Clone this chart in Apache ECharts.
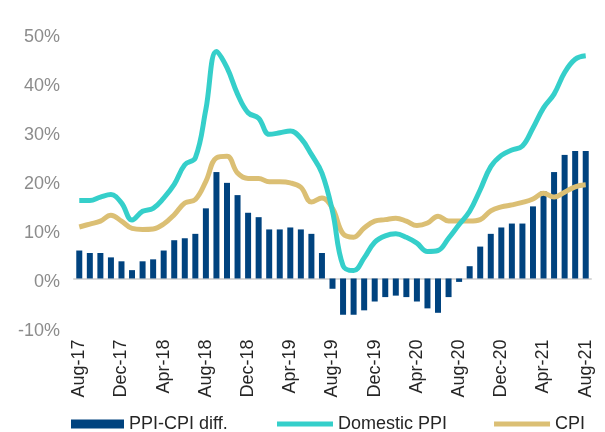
<!DOCTYPE html>
<html>
<head>
<meta charset="utf-8">
<script src="https://cdn.jsdelivr.net/npm/echarts@6/dist/echarts.min.js"></script>
<style>
  html, body { margin: 0; padding: 0; background: #fff; }
  #chart { width: 605px; height: 432px; }
</style>
</head>
<body>
<div id="chart"></div>
<script>
// months, Aug-17 .. Aug-21
const months = [
  'Aug-17', 'Sep-17', 'Oct-17', 'Nov-17', 'Dec-17', 'Jan-18', 'Feb-18', 'Mar-18', 'Apr-18',
  'May-18', 'Jun-18', 'Jul-18', 'Aug-18', 'Sep-18', 'Oct-18', 'Nov-18', 'Dec-18', 'Jan-19',
  'Feb-19', 'Mar-19', 'Apr-19', 'May-19', 'Jun-19', 'Jul-19', 'Aug-19', 'Sep-19', 'Oct-19',
  'Nov-19', 'Dec-19', 'Jan-20', 'Feb-20', 'Mar-20', 'Apr-20', 'May-20', 'Jun-20', 'Jul-20',
  'Aug-20', 'Sep-20', 'Oct-20', 'Nov-20', 'Dec-20', 'Jan-21', 'Feb-21', 'Mar-21', 'Apr-21',
  'May-21', 'Jun-21', 'Jul-21', 'Aug-21'
]

// PPI-CPI difference (%)
const diff = [
  5.7, 5.2, 5.2, 4.3, 3.5, 1.7, 3.5, 3.9, 5.7, 7.8, 8.2, 9.1,
  14.3, 21.7, 19.5, 17.0, 13.4, 12.5, 10.0, 10.0, 10.4, 10.0, 9.1, 5.2,
  -2.1, -7.4, -7.4, -6.5, -4.7, -3.8, -3.5, -3.8, -4.7, -6.1, -7.0, -3.8,
  -0.7, 2.5, 6.5, 9.1, 10.4, 11.2, 11.2, 14.7, 17.8, 21.7, 25.2, 26.0, 26.0
]

// Domestic PPI (%)
const ppi = [
  15.9, 15.9, 16.6, 17.1, 15.4, 11.9, 13.7, 14.3, 16.4, 19.2, 23.2, 24.6,
  34.5, 46.3, 43.0, 37.6, 33.8, 32.7, 29.4, 29.7, 30.1, 28.6, 25.3, 21.5,
  13.7, 2.6, 1.6, 4.2, 7.4, 8.7, 9.1, 8.4, 7.2, 5.5, 5.7, 8.2,
  11.0, 13.7, 18.1, 22.8, 25.1, 26.2, 27.0, 30.7, 34.8, 37.6, 42.0, 44.7, 45.4
]

// CPI (%)
const cpi = [
  10.5, 11.1, 11.7, 12.9, 11.7, 10.2, 10.0, 10.1, 11.1, 13.0, 15.4, 16.1,
  19.8, 24.6, 24.9, 21.5, 20.4, 20.4, 19.7, 19.7, 19.5, 18.6, 15.6, 16.4,
  14.3, 9.1, 8.4, 10.3, 11.7, 12.0, 12.3, 11.7, 10.8, 11.3, 12.7, 11.7,
  11.7, 11.7, 12.0, 13.8, 14.6, 15.0, 15.5, 16.2, 17.4, 16.6, 17.6, 18.7, 19.1
]

const font = 'Liberation Sans, Arial, sans-serif'
const legendText = { fontFamily: font, fontSize: 18, color: '#262626' }
const chart = echarts.init(document.getElementById('chart'))

chart.setOption({
  animation: false,
  grid: { left: 74, right: 14, top: 33.3, bottom: 104.5 },
  // two legends: thick swatch for the bars, thin strokes for the lines
  legend: [
    {
      data: ['PPI-CPI diff.'],
      icon: 'rect',
      left: 71,
      top: 415,
      padding: 0,
      itemWidth: 53,
      itemHeight: 9,
      itemGap: 4,
      textStyle: legendText
    },
    {
      data: ['Domestic PPI', 'CPI'],
      icon: 'rect',
      left: 277,
      top: 415,
      padding: 0,
      itemWidth: 56,
      itemHeight: 5,
      itemGap: 47,
      textStyle: legendText
    }
  ],
  xAxis: [
    // bottom axis: labels only
    {
      type: 'category',
      data: months,
      position: 'bottom',
      axisLine: { show: false, onZero: false },
      axisTick: { show: false },
      axisLabel: {
        interval: 3,
        rotate: 90,
        margin: 12,
        fontFamily: font,
        fontSize: 18,
        color: '#262626'
      }
    },
    // zero line with ticks
    {
      type: 'category',
      data: months,
      position: 'bottom',
      axisLine: { onZero: true, lineStyle: { color: '#d9d9d9', width: 2 } },
      axisTick: { interval: 3, length: 5, lineStyle: { color: '#d9d9d9', width: 1.5 } },
      axisLabel: { show: false }
    }
  ],
  yAxis: {
    type: 'value',
    min: -10,
    max: 50,
    interval: 10,
    axisLine: { show: false },
    axisTick: { show: false },
    splitLine: { show: false },
    axisLabel: {
      formatter: '{value}%',
      margin: 14,
      verticalAlign: 'top',
      lineHeight: 8,
      fontFamily: font,
      fontSize: 18,
      color: '#8c8c8c'
    }
  },
  series: [
    {
      name: 'PPI-CPI diff.',
      type: 'bar',
      xAxisIndex: 1,
      data: diff,
      barWidth: 6,
      itemStyle: { color: '#00437f' },
      z: 1
    },
    {
      name: 'Domestic PPI',
      type: 'line',
      xAxisIndex: 1,
      data: ppi,
      smooth: 0.4,
      symbol: 'none',
      lineStyle: { color: '#35cfca', width: 5 },
      itemStyle: { color: '#35cfca' },
      z: 4
    },
    {
      name: 'CPI',
      type: 'line',
      xAxisIndex: 1,
      data: cpi,
      smooth: 0.4,
      symbol: 'none',
      lineStyle: { color: '#dbbf74', width: 5 },
      itemStyle: { color: '#dbbf74' },
      z: 3
    }
  ]
})
</script>
</body>
</html>
